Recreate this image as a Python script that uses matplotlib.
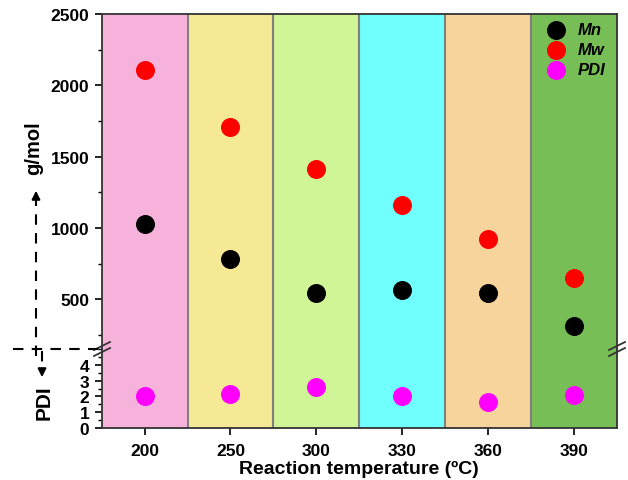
import matplotlib.pyplot as plt
from matplotlib.lines import Line2D
from matplotlib.ticker import MultipleLocator

temps = ['200', '250', '300', '330', '360', '390']
mn = [1030, 780, 545, 565, 545, 312]
mw = [2105, 1708, 1413, 1161, 922, 649]
pdi = [2.05, 2.17, 2.6, 2.04, 1.65, 2.1]
bg_colors = ['#F7B2DC', '#F5E996', '#D0F596', '#70FFFF', '#F6D49C', '#76BE55']

plt.rcParams['font.family'] = ['Liberation Sans', 'DejaVu Sans']
plt.rcParams['font.weight'] = 'bold'
plt.rcParams['axes.labelweight'] = 'bold'
plt.rcParams['font.size'] = 12.5

fig = plt.figure(figsize=(6.28, 4.81), dpi=100)
ax_top = fig.add_axes([0.162, 0.272, 0.820, 0.697])
ax_bot = fig.add_axes([0.162, 0.108, 0.820, 0.164], sharex=ax_top)

x = list(range(len(temps)))
for ax in (ax_top, ax_bot):
    for i, c in enumerate(bg_colors):
        ax.axvspan(i - 0.5, i + 0.5, color=c, lw=0, zorder=0)
    for i in range(1, len(temps)):
        ax.axvline(i - 0.5, color='#808080', lw=1.5, zorder=1)
    for s in ax.spines.values():
        s.set_linewidth(1.3)
        s.set_color('#333333')
    ax.tick_params(direction='out', width=1.2, length=5, pad=4)
    ax.tick_params(which='minor', direction='out', width=1.0, length=3)

# scatter points
h1 = ax_top.scatter(x, mn, s=160, color='black', zorder=3, label='Mn')
h2 = ax_top.scatter(x, mw, s=160, color='#FF0000', zorder=3, label='Mw')
h3 = ax_bot.scatter(x, pdi, s=160, color='#FF00FF', zorder=3, label='PDI')

ax_top.set_xlim(-0.5, 5.5)
ax_top.set_ylim(150, 2500)
ax_top.set_yticks([500, 1000, 1500, 2000, 2500])
ax_top.yaxis.set_minor_locator(MultipleLocator(250))
ax_top.spines['bottom'].set_visible(False)
ax_top.tick_params(axis='x', bottom=False, labelbottom=False)

ax_bot.set_ylim(0, 5)
ax_bot.set_yticks([0, 1, 2, 3, 4])
ax_bot.yaxis.set_minor_locator(MultipleLocator(0.5))
ax_bot.spines['top'].set_visible(False)
ax_bot.set_xticks(x)
ax_bot.set_xticklabels(temps)
ax_bot.tick_params(axis='x', pad=6)
ax_bot.set_xlabel('Reaction temperature (ºC)', fontsize=14, labelpad=1)

ax_top.legend([h1, h2, h3], ['Mn', 'Mw', 'PDI'], loc='upper right',
              frameon=False, prop=dict(weight='bold', style='italic', size=12),
              handletextpad=0.3, labelspacing=0.3, borderaxespad=0.2,
              bbox_to_anchor=(0.998, 1.005))

# axis break marks
W, H = 628, 481
def px(xp, yp):
    return xp / W, 1 - yp / H

for xb in (102, 617):
    for dy in (-3, 3):
        x0, y0 = px(xb - 8, 354 + dy)
        x1, y1 = px(xb + 8, 346 + dy)
        fig.add_artist(Line2D([x0, x1], [y0, y1], color='#333333', lw=1.3))

# dashed guide lines and arrows on the left
dash = (0, (5, 4))
a, b = px(13, 350); c, d = px(100, 350)
fig.add_artist(Line2D([a, c], [b, d], color='black', lw=1.5, linestyle=dash))
a, b = px(36, 357); c, d = px(36, 198)
fig.add_artist(Line2D([a, c], [b, d], color='black', lw=1.5, linestyle=dash))
a, b = px(42, 352); c, d = px(42, 372)
fig.add_artist(Line2D([a, c], [b, d], color='black', lw=1.5, linestyle=dash))

ax_top.annotate('', xy=px(36, 189), xytext=px(36, 200), xycoords='figure fraction',
                textcoords='figure fraction', annotation_clip=False,
                arrowprops=dict(arrowstyle='-|>', color='black', lw=1.5, mutation_scale=12))
ax_top.annotate('', xy=px(42, 381), xytext=px(42, 370), xycoords='figure fraction',
                textcoords='figure fraction', annotation_clip=False,
                arrowprops=dict(arrowstyle='-|>', color='black', lw=1.5, mutation_scale=12))

gx, gy = px(34, 148)
fig.text(gx, gy, 'g/mol', rotation=90, ha='center', va='center', fontsize=14.5)
qx, qy = px(44, 403)
fig.text(qx, qy, 'PDI', rotation=90, ha='center', va='center', fontsize=15)

fig.savefig('out.png', dpi=100)
